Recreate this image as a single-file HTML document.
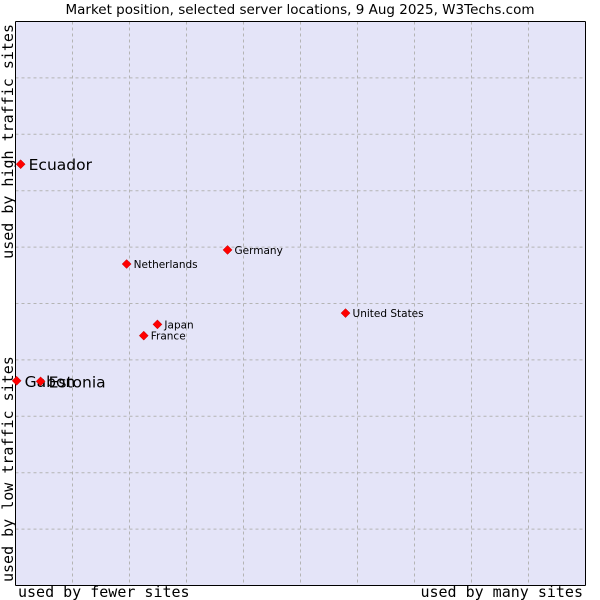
<!DOCTYPE html>
<html><head><meta charset="utf-8"><style>
body{margin:0;background:#fff;}
svg{display:block;}
</style></head><body>
<svg id="chart" width="600" height="600" xmlns="http://www.w3.org/2000/svg">
<text x="300" y="14" text-anchor="middle" font-family="DejaVu Sans, Liberation Sans, sans-serif" font-size="13.5" fill="#000">Market position, selected server locations, 9 Aug 2025, W3Techs.com</text>
<rect x="15.5" y="21.5" width="570" height="564" fill="#e4e4f8" stroke="none"/>
<g id="grid"></g>
<line x1="15.5" y1="21.5" x2="15.5" y2="585.5" stroke="#000"/>
<line x1="15.5" y1="21.5" x2="585.5" y2="21.5" stroke="#000"/>
<line x1="15.5" y1="585.5" x2="585.5" y2="585.5" stroke="#000"/>
<line x1="585.5" y1="21.5" x2="585.5" y2="585.5" stroke="#000"/>
<g id="points"></g>
<text x="18" y="597" font-family="DejaVu Sans Mono, Liberation Mono, monospace" font-size="15">used by fewer sites</text>
<text x="583" y="597" text-anchor="end" font-family="DejaVu Sans Mono, Liberation Mono, monospace" font-size="15">used by many sites</text>
<text transform="translate(13,582) rotate(-90)" font-family="DejaVu Sans Mono, Liberation Mono, monospace" font-size="15">used by low traffic sites</text>
<text transform="translate(13,24) rotate(-90)" text-anchor="end" font-family="DejaVu Sans Mono, Liberation Mono, monospace" font-size="15">used by high traffic sites</text>
</svg>
<script>
const names = ["Ecuador","Gabon","Estonia","Netherlands","Germany","Japan","France","United States"];
const xValues = [0.9,0.2,4.4,19.5,37.2,24.9,22.5,57.9];
const yValues = [74.7,36.3,36.2,57.0,59.5,46.3,44.3,48.3];
const bigLabel = [true,true,true,false,false,false,false,false];
const NS="http://www.w3.org/2000/svg";
function sx(v){return 15.5+v*5.7;}
function sy(v){return 585.5-v*5.64;}
const grid=document.getElementById('grid');
for(let i=1;i<10;i++){
  const l=document.createElementNS(NS,'line');
  l.setAttribute('x1',sx(i*10));l.setAttribute('x2',sx(i*10));
  l.setAttribute('y1',21.5);l.setAttribute('y2',585.5);
  l.setAttribute('stroke','#b4b4b4');l.setAttribute('stroke-dasharray','3,3');
  
  
  grid.appendChild(l);
  const h=document.createElementNS(NS,'line');
  h.setAttribute('y1',sy(i*10));h.setAttribute('y2',sy(i*10));
  h.setAttribute('x1',15.5);h.setAttribute('x2',585.5);
  h.setAttribute('stroke','#b4b4b4');h.setAttribute('stroke-dasharray','3,3');
  
  
  grid.appendChild(h);
}
const pts=document.getElementById('points');
names.forEach((n,i)=>{
  const x=sx(xValues[i]),y=sy(yValues[i]);
  const p=document.createElementNS(NS,'polygon');
  p.setAttribute('points',`${x},${y-4.5} ${x+4.5},${y} ${x},${y+4.5} ${x-4.5},${y}`);
  p.setAttribute('fill','#ff0000');p.setAttribute('stroke','#c00000');p.setAttribute('stroke-width','0.5');
  
  
  pts.appendChild(p);
  const t=document.createElementNS(NS,'text');
  t.setAttribute('x',x+(bigLabel[i]?8:7));
  t.setAttribute('y',y+(bigLabel[i]?6:4));
  t.setAttribute('font-family','DejaVu Sans, Liberation Sans, sans-serif');
  t.setAttribute('font-size',bigLabel[i]?'15.5':'10.5');
  t.setAttribute('fill','#000');
  t.textContent=n;
  
  
  pts.appendChild(t);
});
</script>
</body></html>
